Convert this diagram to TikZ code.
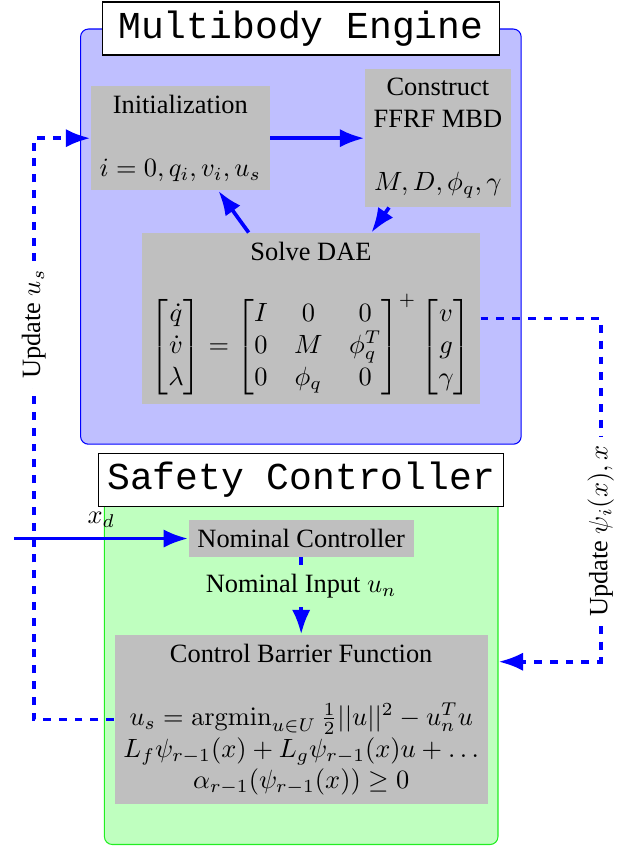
\documentclass[tikz,border=0pt]{standalone}
\usepackage{amsmath}
\usepackage[no-math]{fontspec}
\setmainfont{Liberation Serif}
\setmonofont{Liberation Mono}
\usepackage{xcolor}
\definecolor{flowBlue}{HTML}{0000FF}
\definecolor{engineFill}{HTML}{BFBFFF}
\definecolor{safetyFill}{HTML}{BFFFBF}
\definecolor{safetyBorder}{HTML}{22EE22}
\definecolor{blockGray}{HTML}{BFBFBF}
\usepackage{tikz}
\usetikzlibrary{arrows.meta,fit,backgrounds}
\tikzset{
    block/.style={
        fill=blockGray,
        rectangle,
        align=center
    },
    boxtitle/.style={
        draw=black,
        fill=white,
        rectangle,
        minimum width=5.29cm,
        minimum height=0.61cm,
        font=\Large\ttfamily
    },
    panel/.style={
        rectangle,
        rounded corners=3pt,
        inner xsep=0.13cm,
        inner ysep=0.53cm
    },
    arrow/.style={
        -{Latex},
        line width=1.4pt,
        color=flowBlue
    },
    dasharrow/.style={
        -{Latex},
        line width=1.4pt,
        dashed,
        color=flowBlue
    },
    tag/.style={
        rotate=90,
        fill=white,
        text=black
    }
}

\begin{document}
\begin{tikzpicture}
    \useasboundingbox (0,0) rectangle (8.31,11.29);

    % Multibody engine blocks
    \node[block] (init) at (2.40,9.45) {Initialization\\ \\ $i=0,q_i,v_i,u_s$};
    \node[block] (ffrf) at (5.83,9.45) {Construct\\FFRF MBD\\ \\ $M,D,\phi_q,\gamma$};
    \node[block] (dae) at (4.14,7.05) {Solve DAE\\ \\
        $\begin{bmatrix}\dot q\\ \dot v\\ \lambda\end{bmatrix}
        = \begin{bmatrix}I & 0 & 0\\ 0 & M & \phi_q^T\\ 0 & \phi_q & 0\end{bmatrix}^+
        \begin{bmatrix}v\\ g\\ \gamma\end{bmatrix}$};

    % Safety controller blocks
    \node[block] (nominal) at (4.01,4.12) {Nominal Controller};
    \node[block] (cbf) at (4.01,1.71) {Control Barrier Function\\ \\
        $u_s=\mathrm{argmin}_{u\in U}\,\frac{1}{2}||u||^2-u_n^Tu$\\
        $L_f\psi_{r-1}(x)+L_g\psi_{r-1}(x)u+\ldots$\\
        $\alpha_{r-1}(\psi_{r-1}(x))\geq 0$};

    % Panels behind the blocks
    \begin{scope}[on background layer]
        \node[panel, draw=flowBlue, fill=engineFill, fit=(init)(ffrf)(dae)] (engine) {};
        \node[panel, draw=safetyBorder, fill=safetyFill, fit=(nominal)(cbf)] (safety) {};
    \end{scope}
    \node[boxtitle] (enginetitle) at (engine.north) {Multibody Engine};
    \node[boxtitle] (safetytitle) at (safety.north) {Safety Controller};

    % Simulation loop
    \draw[arrow] (init) -- (ffrf);
    \draw[arrow] (ffrf) -- (dae);
    \draw[arrow] (dae) -- (init);

    % Controller flow
    \coordinate (xin) at (0.19,4.12);
    \draw[arrow] (xin) -- node[above, text=black] {$x_d$} (nominal);
    \draw[dasharrow] (nominal) -- node[pos=0.37, fill=safetyFill, text=black] {Nominal Input $u_n$} (cbf);

    % Feedback between the two panels
    \coordinate (usback) at (0.45,9.45);
    \coordinate (psiback) at (8.00,2.48);
    \draw[dasharrow] (cbf.west) -- (cbf.west -| usback)
        -- node[tag, pos=0.68] {Update $u_s$} (usback) -- (init.west);
    \draw[dasharrow] (dae.east) -- (dae.east -| psiback)
        -- node[tag, pos=0.62] {Update $\psi_i(x), x$} (psiback) -- (psiback -| safety.east);
\end{tikzpicture}
\end{document}
